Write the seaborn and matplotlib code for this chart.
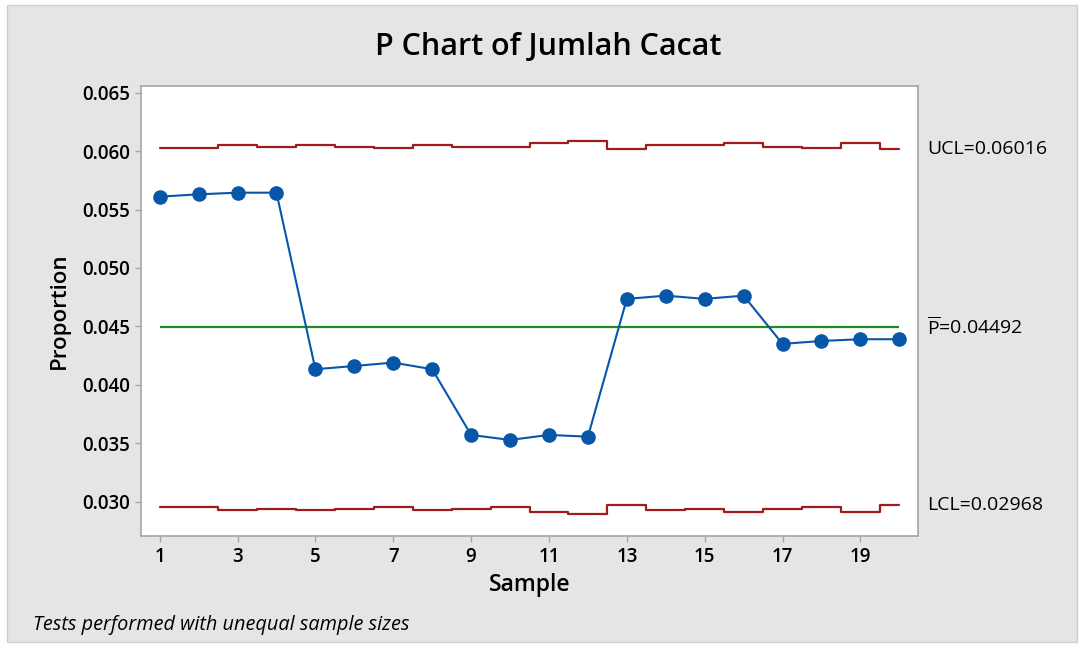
import numpy as np
import pandas as pd
import matplotlib
matplotlib.use("Agg")
import matplotlib.pyplot as plt
from matplotlib.patches import Rectangle
import seaborn as sns

# data
sample = list(range(1, 21))
proportion = [0.0561, 0.0563, 0.05644, 0.05644, 0.04133, 0.04161, 0.0419, 0.04133,
              0.03571, 0.03528, 0.03571, 0.03556, 0.04735, 0.04763, 0.04735, 0.04763,
              0.0435, 0.04375, 0.0439, 0.0439]
ucl = [0.06028, 0.06028, 0.06054, 0.06039, 0.06054, 0.06039, 0.06025, 0.06054,
       0.06039, 0.06039, 0.06073, 0.06090, 0.06016, 0.06056, 0.06056, 0.06073,
       0.06039, 0.06025, 0.06073, 0.06016]
lcl = [0.02951, 0.02951, 0.02925, 0.02936, 0.02925, 0.02936, 0.02951, 0.02925,
       0.02936, 0.02951, 0.02911, 0.02894, 0.02968, 0.02928, 0.02936, 0.02911,
       0.02936, 0.02951, 0.02911, 0.02968]
p_bar = 0.04492
ucl_label = "UCL=0.06016"
lcl_label = "LCL=0.02968"
p_label = r"$\overline{\mathrm{P}}$=0.04492"

df = pd.DataFrame({"sample": sample, "proportion": proportion, "ucl": ucl, "lcl": lcl})

sns.set_theme(style="white")
plt.rcParams['font.family'] = ['Open Sans', 'DejaVu Sans']
plt.rcParams['mathtext.fontset'] = 'custom'
plt.rcParams['mathtext.rm'] = 'Open Sans'
plt.rcParams['text.color'] = 'black'
plt.rcParams['axes.labelcolor'] = 'black'

fig = plt.figure(figsize=(10.81, 6.46), dpi=100, facecolor="white")
# grey panel behind everything
fig.patches.append(Rectangle((7 / 1081, 4 / 646), 1070 / 1081, 637 / 646,
                             transform=fig.transFigure, facecolor="#e5e5e5",
                             edgecolor="#cfcfcf", linewidth=1, zorder=-10))

ax = fig.add_axes([141 / 1081, 1 - 536 / 646, 777 / 1081, 450 / 646])
ax.set_facecolor("white")
ax.set_zorder(1)

red = "#a01c1c"
sns.lineplot(data=df, x="sample", y="ucl", drawstyle="steps-mid", color=red, lw=1.6, ax=ax)
sns.lineplot(data=df, x="sample", y="lcl", drawstyle="steps-mid", color=red, lw=1.6, ax=ax)
ax.hlines(p_bar, 1, 20, color="#1e8c1e", lw=1.6)
sns.lineplot(data=df, x="sample", y="proportion", color="#0756a8", lw=1.5,
             marker="o", markersize=10.5, markeredgewidth=0, ax=ax)

ax.set_xlim(0.52, 20.48)
ax.set_ylim(0.02706, 0.06557)
ax.set_xticks(range(1, 21, 2))
ax.set_yticks(np.arange(0.030, 0.0651, 0.005))
ax.set_yticklabels([f"{v:.3f}" for v in np.arange(0.030, 0.0651, 0.005)])

for s in ax.spines.values():
    s.set_color("#a6a6a6")
    s.set_linewidth(1.2)
ax.tick_params(axis="both", which="both", direction="out", length=4, width=1,
               color="#a6a6a6", labelsize=13.5, labelcolor="black", pad=4,
               bottom=True, left=True)
for lab in ax.get_xticklabels() + ax.get_yticklabels():
    lab.set_fontweight("semibold")

ax.set_xlabel("Sample", fontsize=16.5, fontweight="semibold", labelpad=4)
ax.set_ylabel("Proportion", fontsize=16, fontweight="semibold", labelpad=9)

fig.text(548 / 1081, 1 - 47 / 646, "P Chart of Jumlah Cacat", ha="center", va="center",
         fontsize=22, fontweight="semibold")

# control limit labels at right
for yv, txt in [(ucl[-1], ucl_label), (p_bar, p_label), (lcl[-1], lcl_label)]:
    ax.text(1.012, yv, txt, transform=ax.get_yaxis_transform(), va="center",
            ha="left", fontsize=14, clip_on=False)

fig.text(33 / 1081, 1 - 625 / 646, "Tests performed with unequal sample sizes",
         ha="left", va="center", fontsize=14.3, style="italic")

fig.savefig("out.png", dpi=100, facecolor=fig.get_facecolor())
